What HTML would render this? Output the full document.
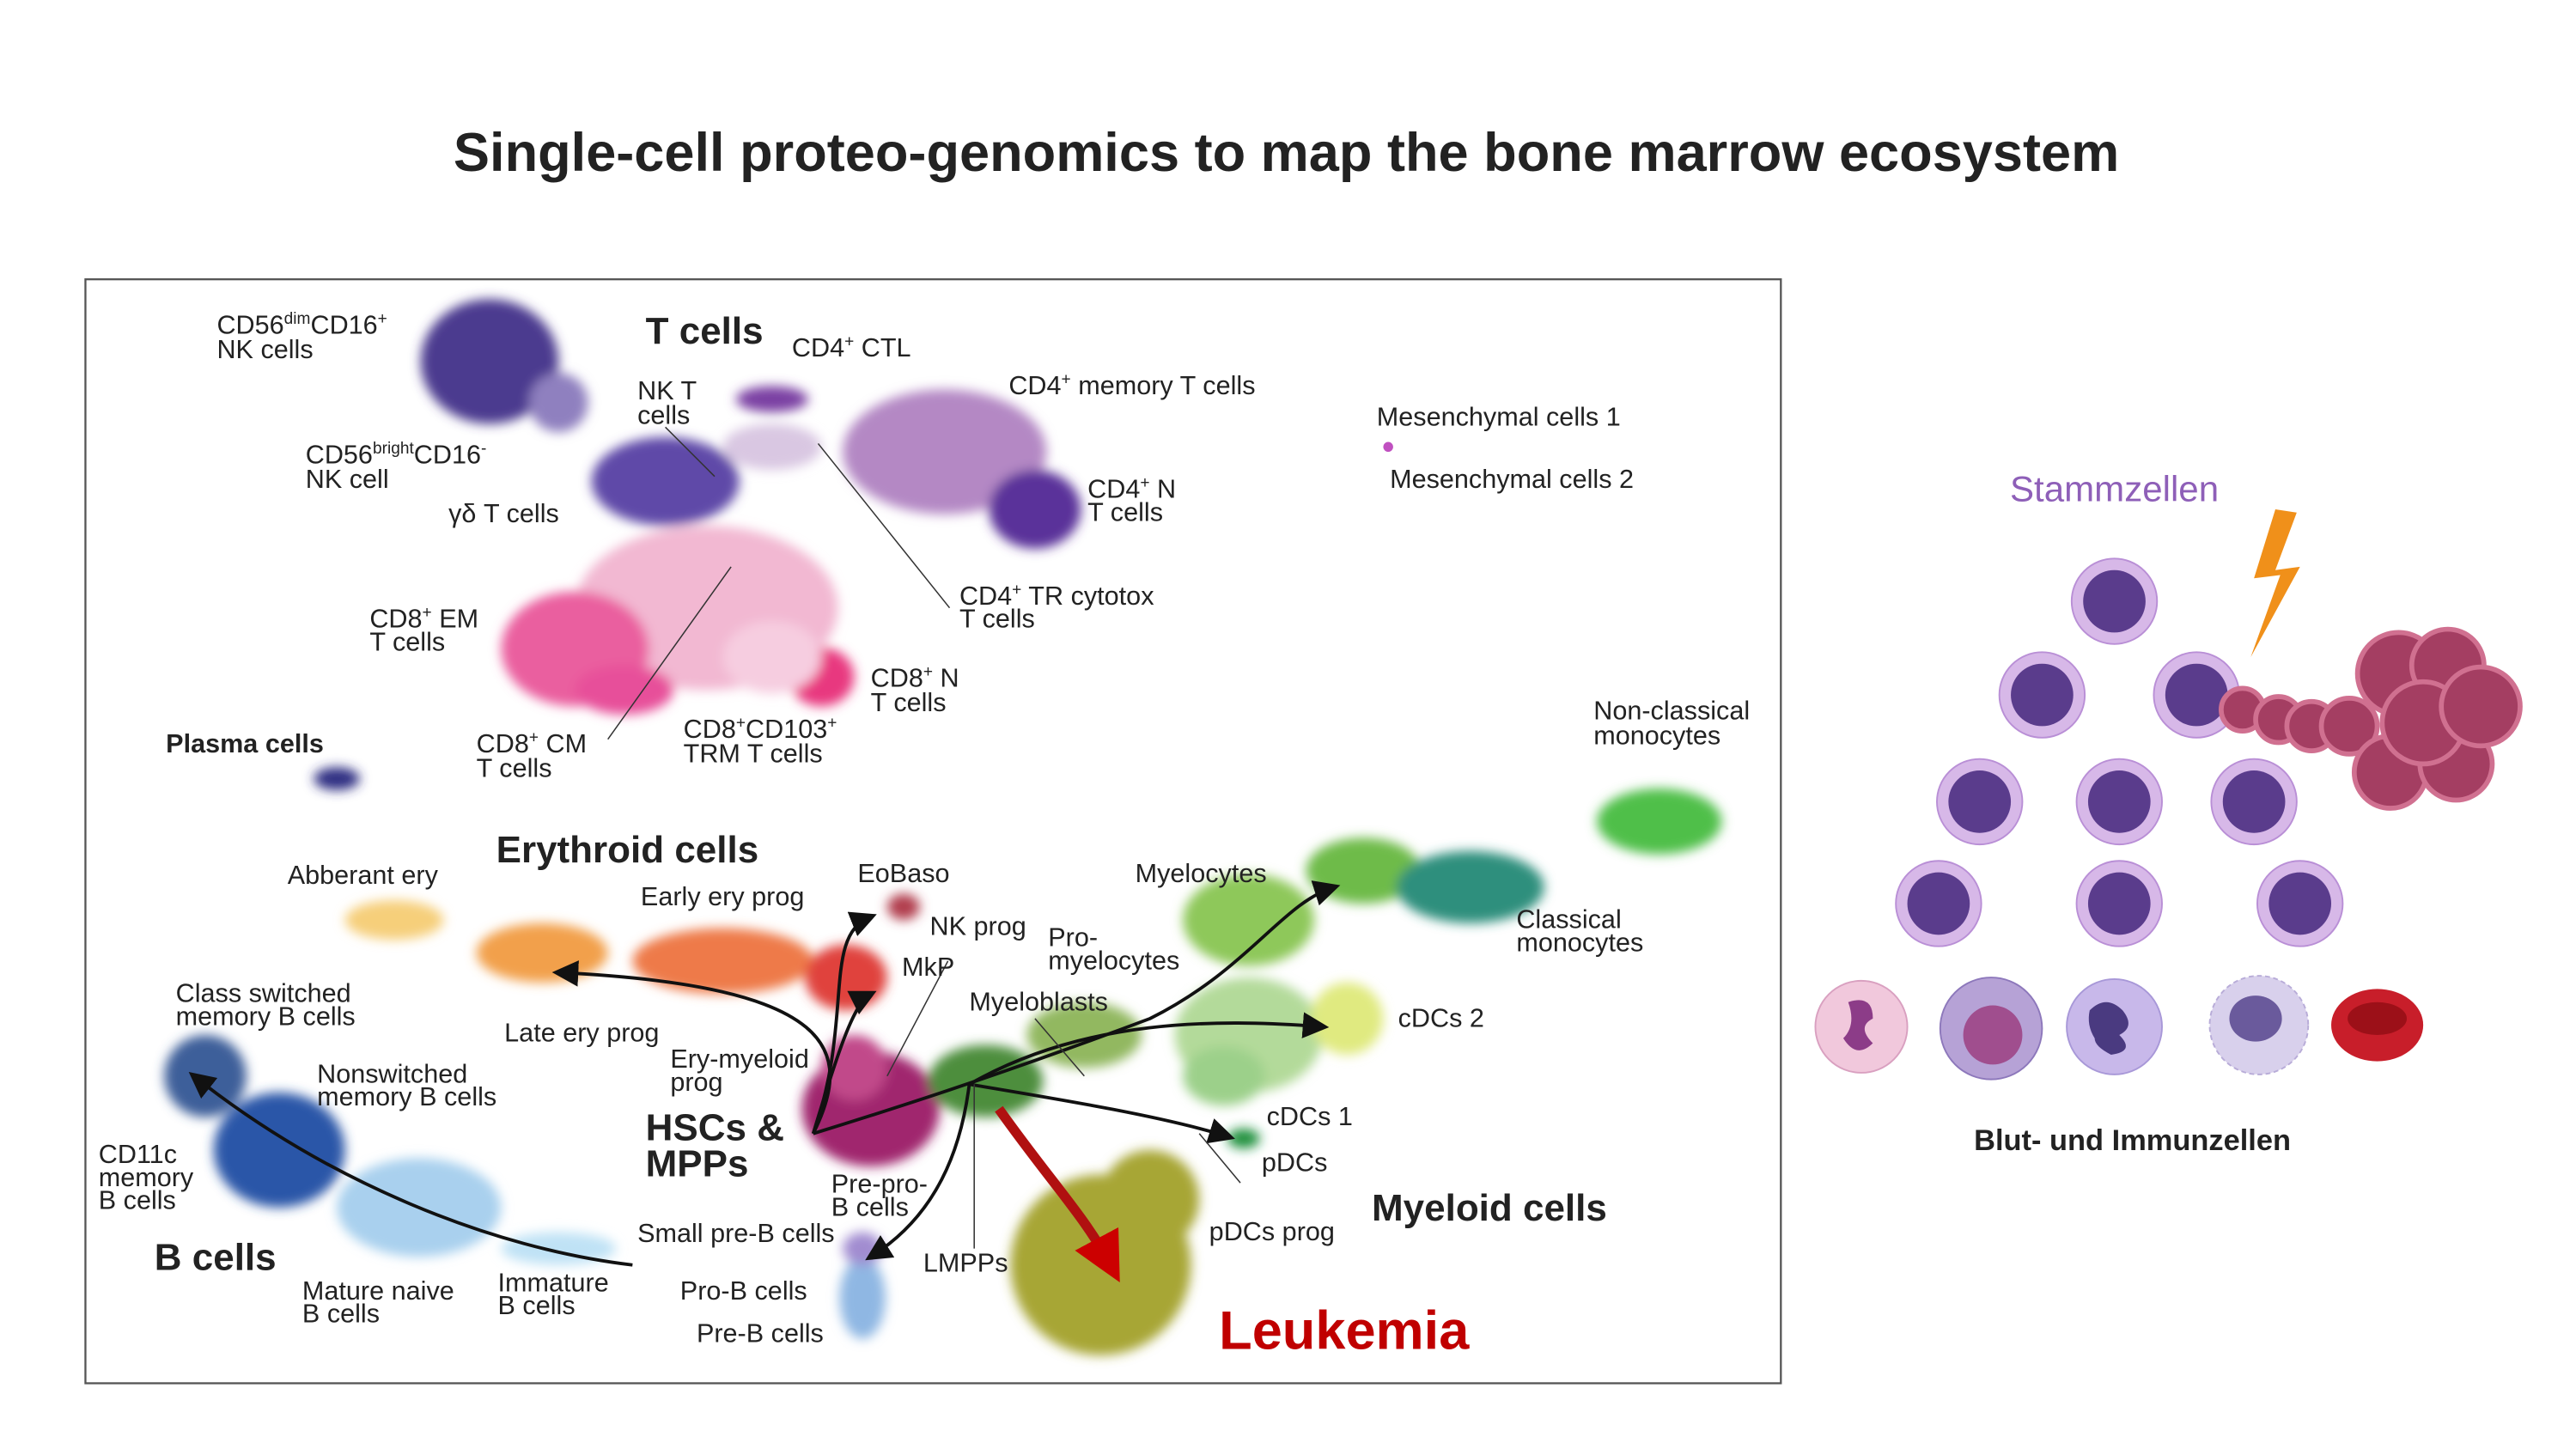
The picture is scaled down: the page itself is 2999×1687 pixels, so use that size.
<!DOCTYPE html>
<html><head><meta charset="utf-8"><style>
html,body{margin:0;padding:0;background:#fff;}
svg{display:block;}
text{font-family:"Liberation Sans",Arial,sans-serif;fill:#222;}
</style></head><body>
<svg width="2999" height="1687" viewBox="0 0 1568 882" xmlns="http://www.w3.org/2000/svg">
<defs>
<filter id="b" x="-30%" y="-30%" width="160%" height="160%"><feGaussianBlur stdDeviation="3.5"/></filter>
<marker id="ar" markerWidth="8" markerHeight="8" refX="6" refY="4" orient="auto"><path d="M0,0 L8,4 L0,8 z" fill="#111"/></marker>
<marker id="arr" markerWidth="5" markerHeight="5" refX="3" refY="2.5" orient="auto"><path d="M0,0 L5,2.5 L0,5 z" fill="#c00"/></marker>
</defs>
<rect width="1568" height="882" fill="#fff"/>
<text x="783" y="104" text-anchor="middle" font-size="33" font-weight="bold" fill="#000">Single-cell proteo-genomics to map the bone marrow ecosystem</text>
<rect x="52" y="170" width="1032" height="672" fill="#fff" stroke="#555" stroke-width="1.2"/>

<g filter="url(#b)">
<ellipse cx="298" cy="220" rx="42" ry="38" fill="#4b3a8f"/>
<ellipse cx="340" cy="245" rx="18" ry="18" fill="#8f80bf"/>
<ellipse cx="405" cy="293" rx="45" ry="27" fill="#5f4aa8"/>
<ellipse cx="470" cy="243" rx="22" ry="8" fill="#7a3fa3"/>
<ellipse cx="575" cy="275" rx="62" ry="38" fill="#b488c4"/>
<ellipse cx="470" cy="272" rx="30" ry="14" fill="#d9c7e2"/>
<ellipse cx="630" cy="310" rx="28" ry="24" fill="#5a309a"/>
<ellipse cx="430" cy="370" rx="80" ry="50" fill="#f2b8d2"/>
<ellipse cx="350" cy="395" rx="45" ry="35" fill="#ea5f9f"/>
<ellipse cx="380" cy="420" rx="30" ry="15" fill="#e7509a"/>
<ellipse cx="500" cy="412" rx="20" ry="18" fill="#e8377f"/>
<ellipse cx="470" cy="400" rx="30" ry="22" fill="#f6cde0"/>
<ellipse cx="205" cy="474" rx="14" ry="7" fill="#2d2f82"/>
<ellipse cx="240" cy="560" rx="30" ry="12" fill="#f6cf7a"/>
<ellipse cx="330" cy="580" rx="40" ry="18" fill="#f2a04c"/>
<ellipse cx="440" cy="585" rx="55" ry="20" fill="#ee7a4a"/>
<ellipse cx="515" cy="595" rx="25" ry="20" fill="#e0433e"/>
<ellipse cx="550" cy="552" rx="10" ry="8" fill="#b13c4e"/>
<ellipse cx="530" cy="675" rx="42" ry="35" fill="#a0286e"/>
<ellipse cx="520" cy="650" rx="20" ry="20" fill="#c14a8a"/>
<ellipse cx="600" cy="658" rx="35" ry="22" fill="#4e8e3c"/>
<ellipse cx="660" cy="630" rx="35" ry="20" fill="#92b860"/>
<ellipse cx="760" cy="560" rx="40" ry="28" fill="#8ec85a"/>
<ellipse cx="830" cy="530" rx="35" ry="20" fill="#6ebb4a"/>
<ellipse cx="895" cy="540" rx="45" ry="22" fill="#2f8f7d"/>
<ellipse cx="1010" cy="500" rx="38" ry="20" fill="#4fbf4a"/>
<ellipse cx="760" cy="630" rx="45" ry="35" fill="#b3da9a"/>
<ellipse cx="820" cy="620" rx="22" ry="22" fill="#e0ea80"/>
<ellipse cx="745" cy="655" rx="25" ry="18" fill="#9cd08a"/>
<ellipse cx="757" cy="693" rx="10" ry="6" fill="#1a8f3a"/>
<ellipse cx="670" cy="770" rx="55" ry="55" fill="#a7a636"/>
<ellipse cx="700" cy="730" rx="30" ry="30" fill="#a7a636"/>
<ellipse cx="125" cy="655" rx="25" ry="25" fill="#3d5f9a"/>
<ellipse cx="170" cy="700" rx="40" ry="35" fill="#2b56a8"/>
<ellipse cx="255" cy="735" rx="50" ry="30" fill="#a9d0ee"/>
<ellipse cx="340" cy="760" rx="35" ry="10" fill="#bfe2f5"/>
<ellipse cx="525" cy="790" rx="14" ry="25" fill="#8fb7e3"/>
<ellipse cx="525" cy="760" rx="12" ry="10" fill="#a18cd0"/>
</g>
<circle cx="845" cy="272" r="3" fill="#c050c0"/>

<g fill="none" stroke="#111" stroke-width="2">
<path d="M495,690 C520,640 510,600 340,592" marker-end="url(#ar)"/>
<path d="M495,690 C520,620 500,570 530,558" marker-end="url(#ar)"/>
<path d="M495,690 C510,640 520,610 530,605" marker-end="url(#ar)"/>
<path d="M495,690 C560,670 620,650 700,620 C760,590 780,550 812,540" marker-end="url(#ar)"/>
<path d="M590,660 C660,620 740,620 805,625" marker-end="url(#ar)"/>
<path d="M590,660 C650,670 710,680 748,692" marker-end="url(#ar)"/>
<path d="M590,660 C585,700 570,740 530,765" marker-end="url(#ar)"/>
<path d="M385,770 C300,760 200,720 118,655" marker-end="url(#ar)"/>
</g>
<path d="M608,675 C640,720 660,740 676,770" stroke="#b01010" stroke-width="6" fill="none" marker-end="url(#arr)"/>
<g stroke="#333" stroke-width="0.8">
<line x1="405" y1="260" x2="435" y2="290"/><line x1="498" y1="270" x2="578" y2="370"/>
<line x1="370" y1="450" x2="445" y2="345"/><line x1="540" y1="655" x2="577" y2="585"/>
<line x1="630" y1="620" x2="660" y2="655"/><line x1="593" y1="660" x2="593" y2="760"/>
<line x1="730" y1="690" x2="755" y2="720"/>
</g>

<g font-size="16">
<text x="132" y="203">CD56<tspan font-size="10" dy="-6">dim</tspan><tspan dy="6">CD16</tspan><tspan font-size="10" dy="-6">+</tspan></text>
<text x="132" y="218">NK cells</text>
<text x="186" y="282">CD56<tspan font-size="10" dy="-6">bright</tspan><tspan dy="6">CD16</tspan><tspan font-size="10" dy="-6">-</tspan></text>
<text x="186" y="297">NK cell</text>
<text x="273" y="318">γδ T cells</text>
<text x="388" y="243">NK T</text><text x="388" y="258">cells</text>
<text x="482" y="217">CD4<tspan font-size="10" dy="-6">+</tspan><tspan dy="6"> CTL</tspan></text>
<text x="614" y="240">CD4<tspan font-size="10" dy="-6">+</tspan><tspan dy="6"> memory T cells</tspan></text>
<text x="662" y="303">CD4<tspan font-size="10" dy="-6">+</tspan><tspan dy="6"> N</tspan></text><text x="662" y="317">T cells</text>
<text x="584" y="368">CD4<tspan font-size="10" dy="-6">+</tspan><tspan dy="6"> TR cytotox</tspan></text><text x="584" y="382">T cells</text>
<text x="225" y="382">CD8<tspan font-size="10" dy="-6">+</tspan><tspan dy="6"> EM</tspan></text><text x="225" y="396">T cells</text>
<text x="530" y="418">CD8<tspan font-size="10" dy="-6">+</tspan><tspan dy="6"> N</tspan></text><text x="530" y="433">T cells</text>
<text x="290" y="458">CD8<tspan font-size="10" dy="-6">+</tspan><tspan dy="6"> CM</tspan></text><text x="290" y="473">T cells</text>
<text x="416" y="449">CD8<tspan font-size="10" dy="-6">+</tspan><tspan dy="6">CD103</tspan><tspan font-size="10" dy="-6">+</tspan></text><text x="416" y="464">TRM T cells</text>
<text x="838" y="259">Mesenchymal cells 1</text>
<text x="846" y="297">Mesenchymal cells 2</text>
<text x="970" y="438">Non-classical</text><text x="970" y="453">monocytes</text>
<text x="175" y="538">Abberant ery</text>
<text x="390" y="551">Early ery prog</text>
<text x="522" y="537">EoBaso</text>
<text x="566" y="569">NK prog</text>
<text x="549" y="594">MkP</text>
<text x="638" y="576">Pro-</text><text x="638" y="590">myelocytes</text>
<text x="691" y="537">Myelocytes</text>
<text x="923" y="565">Classical</text><text x="923" y="579">monocytes</text>
<text x="590" y="615">Myeloblasts</text>
<text x="851" y="625">cDCs 2</text>
<text x="107" y="610">Class switched</text><text x="107" y="624">memory B cells</text>
<text x="307" y="634">Late ery prog</text>
<text x="408" y="650">Ery-myeloid</text><text x="408" y="664">prog</text>
<text x="193" y="659">Nonswitched</text><text x="193" y="673">memory B cells</text>
<text x="771" y="685">cDCs 1</text>
<text x="768" y="713">pDCs</text>
<text x="60" y="708">CD11c</text><text x="60" y="722">memory</text><text x="60" y="736">B cells</text>
<text x="506" y="726">Pre-pro-</text><text x="506" y="740">B cells</text>
<text x="388" y="756">Small pre-B cells</text>
<text x="736" y="755">pDCs prog</text>
<text x="562" y="774">LMPPs</text>
<text x="184" y="791">Mature naive</text><text x="184" y="805">B cells</text>
<text x="303" y="786">Immature</text><text x="303" y="800">B cells</text>
<text x="414" y="791">Pro-B cells</text>
<text x="424" y="817">Pre-B cells</text>
</g>
<g font-weight="bold">
<text x="393" y="209" font-size="23">T cells</text>
<text x="101" y="458" font-size="16">Plasma cells</text>
<text x="302" y="525" font-size="23">Erythroid cells</text>
<text x="393" y="694" font-size="23">HSCs &amp;</text>
<text x="393" y="716" font-size="23">MPPs</text>
<text x="94" y="773" font-size="23">B cells</text>
<text x="835" y="743" font-size="23">Myeloid cells</text>
<text x="742" y="821" font-size="33" style="fill:#c00000">Leukemia</text>
</g>

<text x="1287" y="305" text-anchor="middle" font-size="22" style="fill:#8e5fb8">Stammzellen</text>
<g>
<g fill="#d7b8e8" stroke="#b98fd6" stroke-width="1">
<circle cx="1287" cy="366" r="26"/><circle cx="1243" cy="423" r="26"/><circle cx="1337" cy="423" r="26"/>
<circle cx="1205" cy="488" r="26"/><circle cx="1290" cy="488" r="26"/><circle cx="1372" cy="488" r="26"/>
<circle cx="1180" cy="550" r="26"/><circle cx="1290" cy="550" r="26"/><circle cx="1400" cy="550" r="26"/>
</g>
<g fill="#5a3c8c">
<circle cx="1287" cy="366" r="19"/><circle cx="1243" cy="423" r="19"/><circle cx="1337" cy="423" r="19"/>
<circle cx="1205" cy="488" r="19"/><circle cx="1290" cy="488" r="19"/><circle cx="1372" cy="488" r="19"/>
<circle cx="1180" cy="550" r="19"/><circle cx="1290" cy="550" r="19"/><circle cx="1400" cy="550" r="19"/>
</g>
<path d="M1385,310 L1372,352 L1388,350 L1370,400 L1400,345 L1385,347 L1398,312 z" fill="#f0901a"/>
<g fill="#a43e62" stroke="#d07090" stroke-width="3">
<circle cx="1365" cy="432" r="13"/><circle cx="1387" cy="438" r="14"/><circle cx="1407" cy="442" r="15"/>
<circle cx="1430" cy="442" r="17"/><circle cx="1455" cy="470" r="22"/><circle cx="1495" cy="465" r="22"/>
<circle cx="1460" cy="410" r="25"/><circle cx="1490" cy="405" r="22"/><circle cx="1475" cy="440" r="25"/>
<circle cx="1510" cy="430" r="24"/>
</g>
<circle cx="1133" cy="625" r="28" fill="#f1c8dc" stroke="#d9a0c0"/>
<path d="M1125,610 q15,-5 15,10 q-10,5 0,15 q-10,10 -18,-3 q8,-8 3,-22z" fill="#8c3c88"/>
<circle cx="1212" cy="626" r="31" fill="#b6a2d6" stroke="#8d78bb"/>
<circle cx="1213" cy="630" r="18" fill="#a04e8e"/>
<circle cx="1287" cy="625" r="29" fill="#c8b8ea" stroke="#a898d8"/>
<path d="M1272,615 q10,-10 20,0 q8,10 -2,15 q10,10 -5,12 q-10,-5 -10,-10 q-5,-8 -3,-17z" fill="#4a3a80"/>
<circle cx="1375" cy="624" r="30" fill="#d8d0ec" stroke="#b8acd8" stroke-dasharray="3,2"/>
<ellipse cx="1373" cy="620" rx="16" ry="14" fill="#6a5a9c"/>
<ellipse cx="1447" cy="624" rx="28" ry="22" fill="#c81e2a"/>
<ellipse cx="1447" cy="620" rx="18" ry="10" fill="#9c1018"/>
</g>
<text x="1298" y="700" text-anchor="middle" font-size="18" font-weight="bold" fill="#000">Blut- und Immunzellen</text>
</svg>
</body></html>
